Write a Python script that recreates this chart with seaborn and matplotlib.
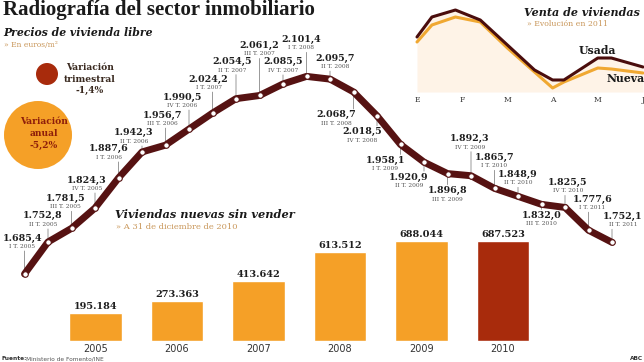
import matplotlib
matplotlib.use("Agg")
import matplotlib.pyplot as plt
import seaborn as sns
import pandas as pd
from matplotlib.patches import Circle

# Precios de vivienda libre (euros/m2)
quarters = ["I T. 2005", "II T. 2005", "III T. 2005", "IV T. 2005",
            "I T. 2006", "II T. 2006", "III T. 2006", "IV T. 2006",
            "I T. 2007", "II T. 2007", "III T. 2007", "IV T. 2007",
            "I T. 2008", "II T. 2008", "III T. 2008", "IV T. 2008",
            "I T. 2009", "II T. 2009", "III T. 2009", "IV T. 2009",
            "I T. 2010", "II T. 2010", "III T. 2010", "IV T. 2010",
            "I T. 2011", "II T. 2011"]
prices = [1685.4, 1752.8, 1781.5, 1824.3, 1887.6, 1942.3, 1956.7, 1990.5,
          2024.2, 2054.5, 2061.2, 2085.5, 2101.4, 2095.7, 2068.7, 2018.5,
          1958.1, 1920.9, 1896.8, 1892.3, 1865.7, 1848.9, 1832.0, 1825.5,
          1777.6, 1752.1]

# Viviendas nuevas sin vender (31 de diciembre)
years = ["2005", "2006", "2007", "2008", "2009", "2010"]
unsold = [195184, 273363, 413642, 613512, 688044, 687523]

# Venta de viviendas, evolucion en 2011 (indice, sin escala)
months = ["E", "F", "M", "A", "M", "J"]
sales_pos = [0, 0.33, 0.85, 1.4, 2.0, 2.6, 3.0, 3.25, 4.0, 4.3, 5.0]
usada = [55, 75, 82, 72, 47, 22, 12, 12, 34, 34, 25]
nueva = [50, 67, 75, 70, 44, 20, 4, 10, 24, 23, 19]

# label placement (pixels from each point: value label centre)
label_offsets = [(-2, -36), (-5, -26), (-6, -30), (-8, -28), (-10, -29), (-8, -19),
                 (-3, -30), (-7, -32), (-4, -34), (-4, -37), (0, -50), (0, -22),
                 (-5, -37), (5, -21), (-17, 23), (-15, 16), (-15, 16), (-15, 15),
                 (0, 17), (-1, -37), (0, -31), (0, -22), (0, 11), (3, -25),
                 (4, -31), (11, -26)]

ORANGE = "#f5a027"
DARKRED = "#a82b0c"
MAROON = "#561212"
TAN = "#c9975a"

sns.set_style("white")
plt.rcParams["font.family"] = ["DejaVu Serif"]

W, H = 644, 362
fig = plt.figure(figsize=(W / 100, H / 100), dpi=100)
fig.patch.set_facecolor("white")

def frac(x0, y0, x1, y1):
    # pixel box (top-left origin) -> figure fraction rect
    return [x0 / W, 1 - y1 / H, (x1 - x0) / W, (y1 - y0) / H]

# background/annotation layer in pixel coordinates
ax_bg = fig.add_axes([0, 0, 1, 1], zorder=0)
ax_bg.set_xlim(0, W)
ax_bg.set_ylim(H, 0)
ax_bg.axis("off")

ax_bg.text(3, 10, "Radiografía del sector inmobiliario", fontsize=15,
           fontweight="bold", family="Liberation Serif", va="center", color="#1a1a1a")
ax_bg.text(3, 32, "Precios de vivienda libre", fontsize=7.8, fontweight="bold",
           style="italic", va="center", color="#1a1a1a")
ax_bg.text(4, 45.5, "» En euros/m²", fontsize=5.5, va="center", color=TAN)

ax_bg.add_patch(Circle((47, 74), 11, color=DARKRED, lw=0))
for t, yy in zip(["Variación", "trimestral", "-1,4%"], [68, 79, 90]):
    ax_bg.text(90, yy, t, fontsize=6.6, fontweight="bold", ha="center",
               va="center", color="#3a2a20")
ax_bg.add_patch(Circle((38, 135), 34, color=ORANGE, lw=0))
for t, yy in zip(["Variación", "anual", "-5,2%"], [122, 134, 145]):
    ax_bg.text(44, yy, t, fontsize=6.6, fontweight="bold", ha="center",
               va="center", color="#8f1f0a")

ax_bg.text(115, 214, "Viviendas nuevas sin vender", fontsize=8.2, fontweight="bold",
           style="italic", va="center", color="#1a1a1a")
ax_bg.text(116, 227, "» A 31 de diciembre de 2010", fontsize=6, va="center", color=TAN)
ax_bg.text(524, 12, "Venta de viviendas", fontsize=8, fontweight="bold",
           style="italic", va="center", color="#1a1a1a")
ax_bg.text(527, 24, "» Evolución en 2011", fontsize=5.6, va="center", color=TAN)

ax_bg.text(1, 359, "Fuente:", fontsize=4.2, fontweight="bold", va="center",
           family="DejaVu Sans", color="#333")
ax_bg.text(26, 359, "Ministerio de Fomento/INE", fontsize=4.2, va="center",
           family="DejaVu Sans", color="#555")
ax_bg.text(643, 359, "ABC", fontsize=4.2, fontweight="bold", va="center",
           ha="right", family="DejaVu Sans", color="#333")

# ---- bars: viviendas nuevas sin vender
ax_bar = fig.add_axes(frac(54.75, 341 - 116, 543.75, 341), zorder=1)
ax_bar.patch.set_alpha(0)
df_bar = pd.DataFrame({"year": years, "unsold": unsold})
bar_colors = [ORANGE] * 5 + [DARKRED]
sns.barplot(data=df_bar, x="year", y="unsold", hue="year", palette=bar_colors,
            legend=False, width=0.65, saturation=1, ax=ax_bar)
ax_bar.set_ylim(0, 800000)
for cont in ax_bar.containers:
    ax_bar.bar_label(cont, labels=[f"{int(b.get_height()):,}".replace(",", ".") for b in cont],
                     padding=1.5, fontsize=7, fontweight="bold", color="#1e1e1e")
ax_bar.set_xlabel("")
ax_bar.set_ylabel("")
ax_bar.set_yticks([])
ax_bar.tick_params(axis="x", length=0, pad=2.5, labelsize=7, labelcolor="#333")
for lab in ax_bar.get_xticklabels():
    lab.set_family("DejaVu Sans")
sns.despine(ax=ax_bar, left=True, bottom=True)

# ---- mini chart: venta de viviendas
ax_mini = fig.add_axes(frac(400, 0, 660, 92), zorder=1)
ax_mini.patch.set_alpha(0)
ax_mini.fill_between(sales_pos, usada, color="#fef3e7", lw=0)
sns.lineplot(x=sales_pos, y=nueva, color="#f0a832", lw=2.2, ax=ax_mini)
sns.lineplot(x=sales_pos, y=usada, color="#4a0d0d", lw=2.2, ax=ax_mini)
ax_mini.set_xlim((400 - 417) / 45.2, (660 - 417) / 45.2)
ax_mini.set_ylim(0, 92)
ax_mini.set_xticks(range(len(months)))
ax_mini.set_xticklabels(months)
ax_mini.set_yticks([])
ax_mini.tick_params(axis="x", direction="in", length=4, width=0.6, color="#555",
                    pad=3, labelsize=5.5, labelcolor="#333")
sns.despine(ax=ax_mini, left=True, bottom=True)
ax_mini.text(4.0, 42, "Usada", fontsize=7.8, fontweight="bold", ha="center",
             va="center", color="#1a1a1a")
ax_mini.text(4.62, 13, "Nueva", fontsize=7.8, fontweight="bold", ha="center",
             va="center", color="#1a1a1a")

# ---- main line: precios de vivienda libre
ax_line = fig.add_axes([0, 0, 1, 1], zorder=3)
ax_line.patch.set_alpha(0)
idx = list(range(len(prices)))
sns.lineplot(x=idx, y=prices, color=MAROON, lw=5, marker="o", markersize=4,
             markerfacecolor="white", markeredgecolor=MAROON, markeredgewidth=0.8,
             ax=ax_line, zorder=4)
ax_line.set_xlim(-24.5 / 23.5, (W - 24.5) / 23.5)
ax_line.set_ylim(1685.4 - 88 / 0.475, 1685.4 + 274 / 0.475)
ax_line.axis("off")

for i, (v, q, (dx, dy)) in enumerate(zip(prices, quarters, label_offsets)):
    txt = f"{v:,.1f}".replace(",", "X").replace(".", ",").replace("X", ".")
    ax_line.annotate(txt, (i, v), xytext=(dx, -dy), textcoords="offset pixels",
                     ha="center", va="center", fontsize=6.8, fontweight="bold",
                     color="#1e1e1e")
    ax_line.annotate(q, (i, v), xytext=(dx, -(dy + 8.5)), textcoords="offset pixels",
                     ha="center", va="center", fontsize=4.2, color="#555")
    end = dy + 13 if dy < 0 else dy - 6
    if abs(end) > 4:
        ax_line.annotate("", (i, v), xytext=(0, -end), textcoords="offset pixels",
                         arrowprops=dict(arrowstyle="-", color="#888", lw=0.6,
                                         shrinkA=0, shrinkB=0), zorder=2)

fig.savefig("out.png", dpi=100, facecolor="white")
